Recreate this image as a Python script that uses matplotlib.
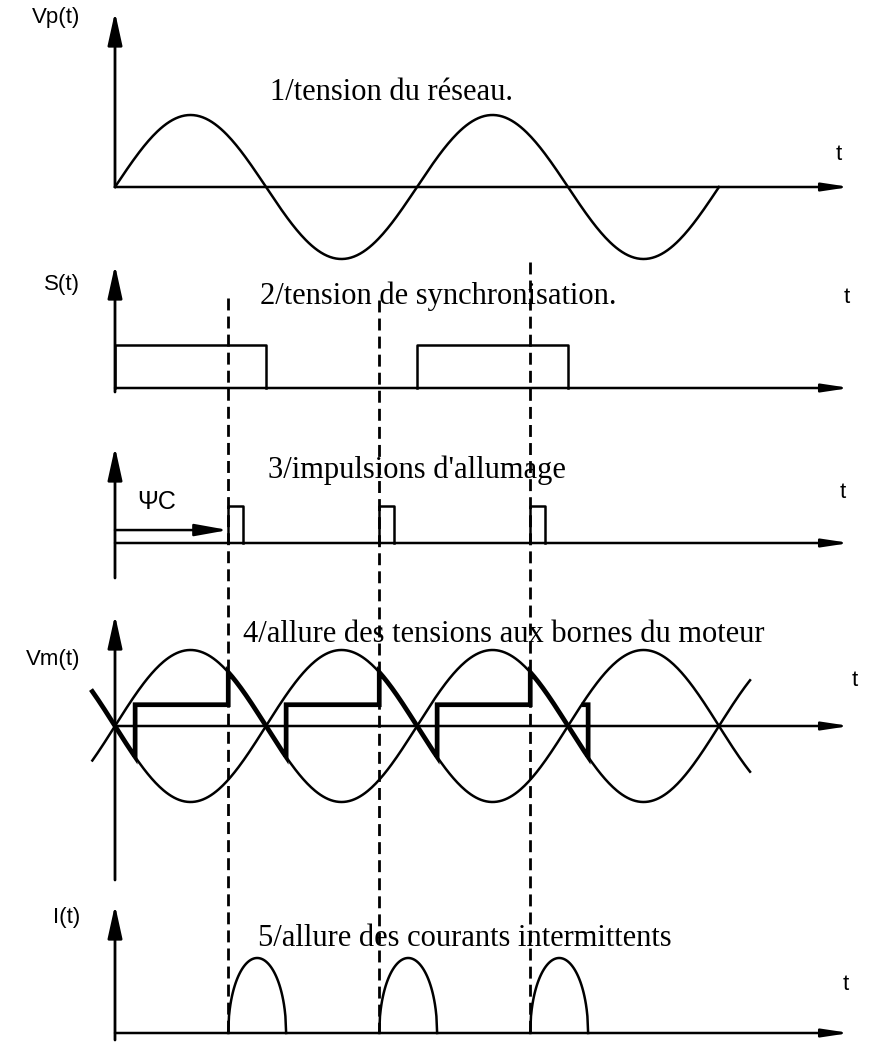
"""
Chronogrammes d'un pont redresseur commande alimentant un moteur (conduction discontinue)
"""
import numpy as np
import matplotlib.pyplot as plt

plt.rcParams['font.family'] = ['Liberation Sans', 'DejaVu Sans']

# ============ DONNEES (angles en degres, tensions en p.u.) ============
ALPHA      = 135                 # angle d'amorcage psi_c
EXTINCTION = 24                  # conduction au-dela du passage par zero
E_MOTEUR   = 0.28                # fcem du moteur / tension crete
T_RESEAU   = (0, 720)            # tension du reseau : deux periodes
T_SINUS4   = (-27, 757)          # sinusoides du panneau 4
SYNC_HAUT  = [(0, 180), (360, 540)]
LARG_IMPULSION = 18
AMORCAGES  = [ALPHA, ALPHA + 180, ALPHA + 360]
T_AXE      = 876                 # fin des axes de temps
TITRES = ['1/tension du réseau.', '2/tension de synchronisation.',
          "3/impulsions d'allumage",
          '4/allure des tensions aux bornes du moteur',
          '5/allure des courants intermittents']
ETIQUETTES = ['Vp(t)', 'S(t)', '', 'Vm(t)', 'I(t)']
# ======================================================================

# ============ MISE EN PAGE (pixels de l'image) ============
W, H = 886, 1042
X0, PX_DEG = 115, 151 / 180
# base, px par unite, haut de l'axe, bas de l'axe
PANNEAUX = [(187, 72, 12, 187), (388, 43, 265, 392), (543, 37, 447, 578),
            (726, 76, 615, 880), (1033, 75, 905, 1040)]
POS_TITRES = [(270, 92), (260, 296), (268, 470), (243, 634), (258, 938)]
POS_ETIQ   = [(80, 18), (80, 285), None, (80, 660), (80, 917)]
POS_T      = [(836, 155), (844, 298), (840, 493), (852, 680), (843, 985)]
HAUT_TIRETS = [298, 300, 262]
# ==========================================================

fig = plt.figure(figsize=(W / 100, H / 100), dpi=100)
xlim = (-X0 / PX_DEG, (W - X0) / PX_DEG)

def panneau(base, ech):
    ax = fig.add_axes([0, 0, 1, 1], facecolor='none')
    ax.set_xlim(*xlim)
    ax.set_ylim((base - H) / ech, base / ech)
    ax.axis('off')
    return ax

def fleche(ax, p0, p1, hl, hw, lw=2.0):
    ax.annotate('', xy=p1, xytext=p0,
                arrowprops=dict(arrowstyle=f'-|>,head_length={hl},head_width={hw}',
                                mutation_scale=20, lw=lw, color='k',
                                shrinkA=0, shrinkB=0))

axes = []
for (base, ech, haut, bas) in PANNEAUX:
    ax = panneau(base, ech)
    fleche(ax, (0, (base - bas) / ech), (0, (base - haut) / ech), 1.0, 0.22)
    fleche(ax, (0, 0), (T_AXE, 0), 0.8, 0.12, lw=1.8)
    axes.append(ax)

LW = 1.8
# 1/ tension du reseau
t = np.linspace(*T_RESEAU, 400)
axes[0].plot(t, np.sin(np.radians(t)), color='k', lw=LW)

# 2/ synchronisation
for a, b in SYNC_HAUT:
    axes[1].plot([a, a, b, b], [0, 1, 1, 0], color='k', lw=LW)

# 3/ impulsions
for a in AMORCAGES:
    axes[2].plot([a, a, a + LARG_IMPULSION, a + LARG_IMPULSION], [0, 1, 1, 0],
                 color='k', lw=LW)
fleche(axes[2], (0, 0.35), (ALPHA, 0.35), 1.0, 0.18, lw=1.8)
axes[2].text(27, 1.1, 'ΨC', fontsize=18, va='center', ha='left')

# 4/ tension moteur
t = np.linspace(*T_SINUS4, 500)
axes[3].plot(t, np.sin(np.radians(t)), color='k', lw=LW)
axes[3].plot(t, -np.sin(np.radians(t)), color='k', lw=LW)
th = list(np.linspace(T_SINUS4[0], EXTINCTION, 40))
vm = list(-np.sin(np.radians(th)))
th.append(EXTINCTION); vm.append(E_MOTEUR)
for k, a in enumerate(AMORCAGES):
    th.append(a); vm.append(E_MOTEUR)
    tt = np.linspace(a, 180 * (k + 1) + EXTINCTION, 60)
    th += list(tt); vm += list((-1) ** k * np.sin(np.radians(tt)))
    th.append(tt[-1]); vm.append(E_MOTEUR)
th.append(th[-1] - 5); vm.append(E_MOTEUR)
axes[3].plot(th, vm, color='k', lw=3.4, solid_joinstyle='miter')

# 5/ courants intermittents
for k, a in enumerate(AMORCAGES):
    b = 180 * (k + 1) + EXTINCTION
    tt = np.linspace(a, b, 80)
    u = (2 * tt - a - b) / (b - a)
    axes[4].plot(tt, np.sqrt(np.clip(1 - u ** 2, 0, 1)), color='k', lw=LW)

# traits d'amorcage en pointilles
ov = fig.add_axes([0, 0, 1, 1], facecolor='none')
ov.set_xlim(*xlim); ov.set_ylim(H, 0); ov.axis('off')
for a, top in zip(AMORCAGES, HAUT_TIRETS):
    ov.plot([a, a], [top, PANNEAUX[-1][0]], color='k', lw=2.0, ls=(0, (4.3, 2.2)))

for txt, (x, y) in zip(TITRES, POS_TITRES):
    fig.text(x / W, 1 - y / H, txt, fontsize=22, family='Liberation Serif',
             ha='left', va='center')
for txt, pos in zip(ETIQUETTES, POS_ETIQ):
    if pos:
        fig.text(pos[0] / W, 1 - pos[1] / H, txt, fontsize=16, ha='right', va='center')
for (x, y) in POS_T:
    fig.text(x / W, 1 - y / H, 't', fontsize=16, ha='left', va='center')

plt.savefig('out.png', dpi=100)
